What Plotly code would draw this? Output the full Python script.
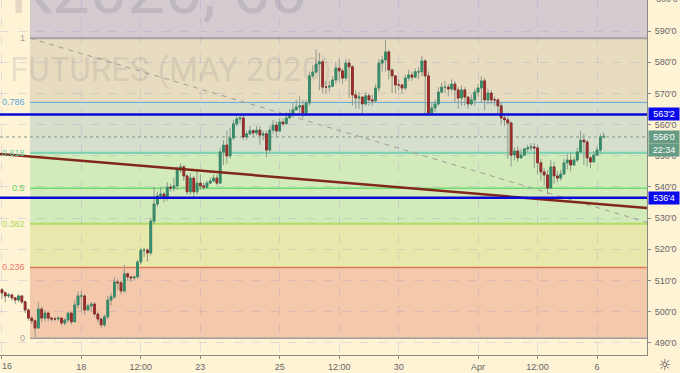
import plotly.graph_objects as go

closes = [506,505,505.3,504.4,503.7,505,503.1,500.5,497.9,497,494.7,500.8,497.9,499.5,497.9,497.6,497.6,497.9,496.3,497.3,
499.5,496.7,502.1,505,505,500.5,501.8,502.4,499.2,497.6,495.7,498.3,503.7,504.7,509.5,509.2,506.6,512.1,511.1,510.8,
511.1,515.9,519.7,519.7,518.8,529,534.5,537.1,537.7,536.4,539.9,539.6,540.3,545.4,546.4,543.5,538.4,542.8,538.4,541.2,
540.3,539.9,541.2,541.9,542.8,541.2,551.2,553.4,549.9,555.7,560.2,561.8,562.1,556,557,558,557.3,558.2,556.6,557,
551.8,558.2,559.8,557.9,560.8,560.2,562.1,563.4,564.7,565.6,566,563.7,566.9,575.6,576.8,579.4,580.1,572,572,572.3,
574.3,578.1,577.2,574.9,579.7,578.5,569.5,568.5,568.8,566.6,569.2,567.9,567.6,571.7,579.7,580.7,583.3,577.5,575.6,572.7,
572.7,571.7,574.9,575.9,575.2,576.9,576.9,580.4,575.6,563.7,565.3,566.6,570.4,572,572,571.4,573,571.1,568.5,571.1,
568.8,566.6,567.9,570.4,571.7,574,567.9,570.1,567.9,567.9,566,562.1,561.5,560.5,550.2,551.5,549.3,550.2,552.2,552.5,
552.8,552.5,547.7,544.8,543.8,539.6,546.4,543.5,542.8,544.1,547.7,548.6,547,548.6,551.2,555,554.4,549.3,548,550.2,
551.8,556,556.2]
opens = [507,506,505,505.3,504.4,503.7,505,503.1,500.5,497.9,497,494.7,500.8,497.9,499.5,497.9,497.6,497.6,497.9,496.3,
497.3,499.5,496.7,502.1,505,505,500.5,501.8,502.4,499.2,497.6,495.7,498.3,503.7,504.7,509.5,509.2,506.6,512.1,511.1,
510.8,511.1,515.9,519.7,519.7,518.8,529,534.5,537.1,537.7,536.4,539.9,539.6,540.3,545.4,546.4,543.5,538.4,542.8,538.4,
541.2,540.3,539.9,541.2,541.9,542.8,541.2,551.2,553.4,549.9,555.7,560.2,561.8,562.1,556,557,558,557.3,558.2,556.6,
557,551.8,558.2,559.8,557.9,560.8,560.2,562.1,563.4,564.7,565.6,566,563.7,566.9,575.6,576.8,579.4,580.1,572,572,
572.3,574.3,578.1,577.2,574.9,579.7,578.5,569.5,568.5,568.8,566.6,569.2,567.9,567.6,571.7,579.7,580.7,583.3,577.5,575.6,
572.7,572.7,571.7,574.9,575.9,575.2,576.9,576.9,580.4,575.6,563.7,565.3,566.6,570.4,572,572,571.4,573,571.1,568.5,
571.1,568.8,566.6,567.9,570.4,571.7,574,567.9,570.1,567.9,567.9,566,562.1,561.5,560.5,550.2,551.5,549.3,550.2,552.2,
552.5,552.8,552.5,547.7,544.8,543.8,539.6,546.4,543.5,542.8,544.1,547.7,548.6,547,548.6,551.2,555,554.4,549.3,548,
550.2,551.8,556]
highs = [507.5,506.5,506,505.8,504.6,505.5,505.3,503.6,501,498.5,497.5,503,501.5,500.5,500,498.3,498.3,498.5,498.2,497.8,
500,500,503.5,506.5,506.6,505.5,502.5,503,503,499.8,498,499,505,506,511,510.5,510,515,512.5,511.5,
511.5,516.5,520.5,520.5,520.2,530,540,538.5,540,538.5,541.5,541,543,546.5,547.5,547,544,544.5,543.5,545.5,
544,541.5,542,543,544,544,552.5,555,558,559,561.5,563.5,563,563,558,559.5,558.5,559.5,559.5,558,
558,559.5,561.5,561,562,562,564,565,567,568,569,568,568,577,579,584,583,581,574,574,
575.5,580,581,578,581,581,579,571,570.5,569,570.5,570,569.5,573,581,582,587,584,578,575,
574.5,573,576,577.5,577,578,578.5,582,581,577,567,568,572,573.5,574,573,574.5,574,572,572.5,
572,569,569.5,571.5,573,575.5,575,571.5,571,569,568.5,567,563,562.5,561,552.5,553,552,552,553.5,
554,554,553.5,549,546,545.5,548.5,548,545,545.5,549,550.5,551,549.5,552.5,558,557,555,550,551.5,
553,557,557.5]
lows = [504,503,504.3,503.5,502.5,503,502.5,499.5,497,496,491.8,494.5,496.5,497,497,496.8,496.8,497,495.5,495.5,
496.5,495.8,496.5,501,500,499,500,500,498.5,496.5,494.8,495,497.5,502,504,507,505.5,506,510,509.5,
510,510.5,515,517.5,516,518,528,533.5,536,535,535.5,538.5,538.5,539,544.5,542,537.5,537.5,536.5,537.5,
539,539,539.5,541,541.5,540.5,541,547,547.5,549,555,559.5,560.5,555,555,556.5,556,556.5,553.5,555,
549.5,551,557,556,557.5,559.5,561,562,563.5,564.5,563,562,563,566,575,577.5,571,570,570,570.5,
572,573,573.5,573,574,568.5,566,565,565,563,566,566,566,567,570.5,577,577,574.5,570,570,
571,570,571,574,574,575,574.5,575.5,563,563,563,564,566,570,570,569,570.5,567,565,566,
566,565,566,566,569,567,564.5,566.5,566.5,566,563.5,560,559.5,549,546.5,548.5,548,549,551.5,551,
551.5,546,544,542,540.5,537.5,540,541,541.5,542,546,545.5,545,547,548,553,547,546.5,546,548,
550,551,555.5]

x_idx = list(range(len(closes)))
x_tick_vals = [0, 24, 42, 60, 84, 102, 120, 144, 162, 180]
x_tick_text = ["", "18", "12:00", "23", "25", "12:00", "30", "Apr", "12:00", "6"]
first_tick_label = "16"
y_tick_vals = [490, 500, 510, 520, 530, 540, 550, 560, 570, 580, 590]
y_tick_text = ["490'0", "500'0", "510'0", "520'0", "530'0", "540'0", "550'0", "560'0", "570'0", "580'0", "590'0"]
top_tick_label = "600'0"

fib_low, fib_high = 491.4, 587.7
fib_ratios = [0, 0.236, 0.382, 0.5, 0.618, 0.786, 1]
fib_text = ["0", "0.236", "0.382", "0.5", "0.618", "0.786", "1"]
fib_line_col = ["#a39c9c", "#e0785f", "#b2dc62", "#6cdc6c", "#7fd2b2", "#5aa9da", "#a8a0a2"]
fib_line_w = [1.5, 1.5, 2, 1.5, 2.2, 1, 2]
fib_text_col = ["#a8a4a0", "#ea7a68", "#aedc5e", "#62d062", "#62cca4", "#58aade", "#a09c9c"]
band_col = ["rgba(235,171,142,.6)", "rgba(217,225,144,.6)", "rgba(182,228,169,.6)", "rgba(182,228,169,.6)",
            "rgba(185,210,197,.6)", "rgba(217,205,176,.6)", "rgba(182,176,204,.6)"]
fib_x0 = 8.47
x_lo, x_hi = -0.6, 195.1
y_lo, y_hi = 486.05, 599.95
support, resistance, last_price = 536.5, 563.25, 556.0
trend = ((x_lo, 550.55), (x_hi, 533.2))
diag = ((fib_x0, fib_high), (x_hi, 528.6))

BG = "#fff3d6"
fig = go.Figure()

# wicks
fig.add_trace(go.Candlestick(x=x_idx, open=opens, high=highs, low=lows, close=closes,
    increasing=dict(line=dict(color="#8f9a8c", width=1), fillcolor="#8f9a8c"),
    decreasing=dict(line=dict(color="#8f9a8c", width=1), fillcolor="#8f9a8c"),
    whiskerwidth=0, hoverinfo="skip", showlegend=False))
# bodies
fig.add_trace(go.Candlestick(x=x_idx, open=opens, close=closes,
    high=[max(a, b) for a, b in zip(opens, closes)], low=[min(a, b) for a, b in zip(opens, closes)],
    increasing=dict(line=dict(color="#3a8a68", width=1), fillcolor="#2f8f6a"),
    decreasing=dict(line=dict(color="#8c2f2c", width=1), fillcolor="#b02a2a"),
    whiskerwidth=0, hoverinfo="skip", showlegend=False))

levels = [fib_low + r * (fib_high - fib_low) for r in fib_ratios]
shapes = []
tops = levels[1:] + [y_hi]
for lo, hi, col in zip(levels, tops, band_col):
    shapes.append(dict(type="rect", xref="x", yref="y", x0=fib_x0, x1=x_hi, y0=lo, y1=hi,
                       fillcolor=col, line_width=0, layer="below"))
for lv, col, w in zip(levels, fib_line_col, fib_line_w):
    shapes.append(dict(type="line", xref="x", yref="y", x0=fib_x0, x1=x_hi, y0=lv, y1=lv,
                       line=dict(color=col, width=w), layer="below"))
shapes.append(dict(type="line", xref="x", yref="y", x0=x_lo, x1=x_hi, y0=last_price, y1=last_price,
                   line=dict(color="#7f9a8c", width=1, dash="dot"), layer="below"))
shapes.append(dict(type="line", xref="x", yref="y", x0=diag[0][0], y0=diag[0][1], x1=diag[1][0], y1=diag[1][1],
                   line=dict(color="#a09c98", width=1, dash="5px,5px"), layer="above"))
shapes.append(dict(type="line", xref="x", yref="y", x0=trend[0][0], y0=trend[0][1], x1=trend[1][0], y1=trend[1][1],
                   line=dict(color="#80281a", width=2.5), layer="above"))
for lv in (support, resistance):
    shapes.append(dict(type="line", xref="x", yref="y", x0=x_lo, x1=x_hi, y0=lv, y1=lv,
                       line=dict(color="#0a0ad8", width=2.5), layer="above"))

ann = []
for lv, txt, col in zip(levels, fib_text, fib_text_col):
    ann.append(dict(x=fib_x0 - 0.9, y=lv, xref="x", yref="y", text=txt, showarrow=False, xanchor="right",
                    yanchor="middle", font=dict(family="Liberation Sans", size=9, color=col)))
ann.append(dict(x=8 / 647, y=1, xref="paper", yref="paper", yshift=51, text="K2020, 60", showarrow=False,
                xanchor="left", yanchor="top", font=dict(family="Roboto", size=67, color="rgba(120,110,130,.2)")))
ann.append(dict(x=8 / 647, y=1, xref="paper", yref="paper", yshift=-48, text="FUTURES (MAY 2020)", showarrow=False,
                xanchor="left", yanchor="top", font=dict(family="Roboto", size=33, color="rgba(120,115,125,.18)")))
# labels at the chart's edges that Plotly would otherwise drop or use to push the margins
ann.append(dict(x=0, xref="paper", y=0, yref="paper", yshift=-11, xshift=0, text=first_tick_label, showarrow=False,
                xanchor="left", yanchor="middle", font=dict(family="Liberation Sans", size=9, color="#666")))
ann.append(dict(x=1, xref="paper", y=1, yref="paper", xshift=7, yshift=1, text=top_tick_label, showarrow=False,
                xanchor="left", yanchor="middle", font=dict(family="Liberation Sans", size=9, color="#666")))
tags = [(resistance, "563'2", "#0a0aee"), (support, "536'4", "#0a0aee"),
        (last_price, "556'0", "#669c84"), (551.85, "22:34", "#669c84")]
for y, txt, col in tags:
    ann.append(dict(x=1, xref="paper", y=y, yref="y", xshift=1, text=txt, showarrow=False, xanchor="left", yanchor="middle",
                    bgcolor=col, borderpad=0, width=30, height=12, align="center",
                    font=dict(family="Liberation Sans", size=9, color="white")))
ann.append(dict(x=1, xref="paper", y=0, yref="paper", xshift=17, yshift=-10, text="☼", showarrow=False, xanchor="center",
                yanchor="middle", font=dict(family="DejaVu Sans", size=15, color="#444444")))

grid = "rgba(140,130,210,.22)"
fig.update_layout(
    width=680, height=373, margin=dict(l=0, r=33, t=0, b=18, pad=0), paper_bgcolor=BG, plot_bgcolor=BG,
    boxgap=0.25, showlegend=False, shapes=shapes, annotations=ann,
    xaxis=dict(range=[x_lo, x_hi], tickmode="array", tickvals=x_tick_vals, ticktext=x_tick_text,
               rangeslider=dict(visible=False), showgrid=True, griddash="dash", gridcolor=grid, gridwidth=1,
               ticks="outside", ticklen=3, tickcolor="#888", showline=True, linecolor="#8a8a80", linewidth=1,
               automargin=False,
               tickfont=dict(family="Liberation Sans", size=9, color="#666"), zeroline=False),
    yaxis=dict(range=[y_lo, y_hi], side="right", tickmode="array", tickvals=y_tick_vals, ticktext=y_tick_text,
               showgrid=True, griddash="dash", gridcolor=grid, gridwidth=1, ticks="outside", ticklen=3,
               tickcolor="#888", showline=True, linecolor="#8a8a80", linewidth=1,
               automargin=False, ticklabelstandoff=2,
               tickfont=dict(family="Liberation Sans", size=9, color="#666"), zeroline=False),
)
fig.write_html("out.html", config=dict(displayModeBar=False),
               post_script="document.documentElement.style.margin='0';document.body.style.margin='0';document.body.style.overflow='hidden';")
